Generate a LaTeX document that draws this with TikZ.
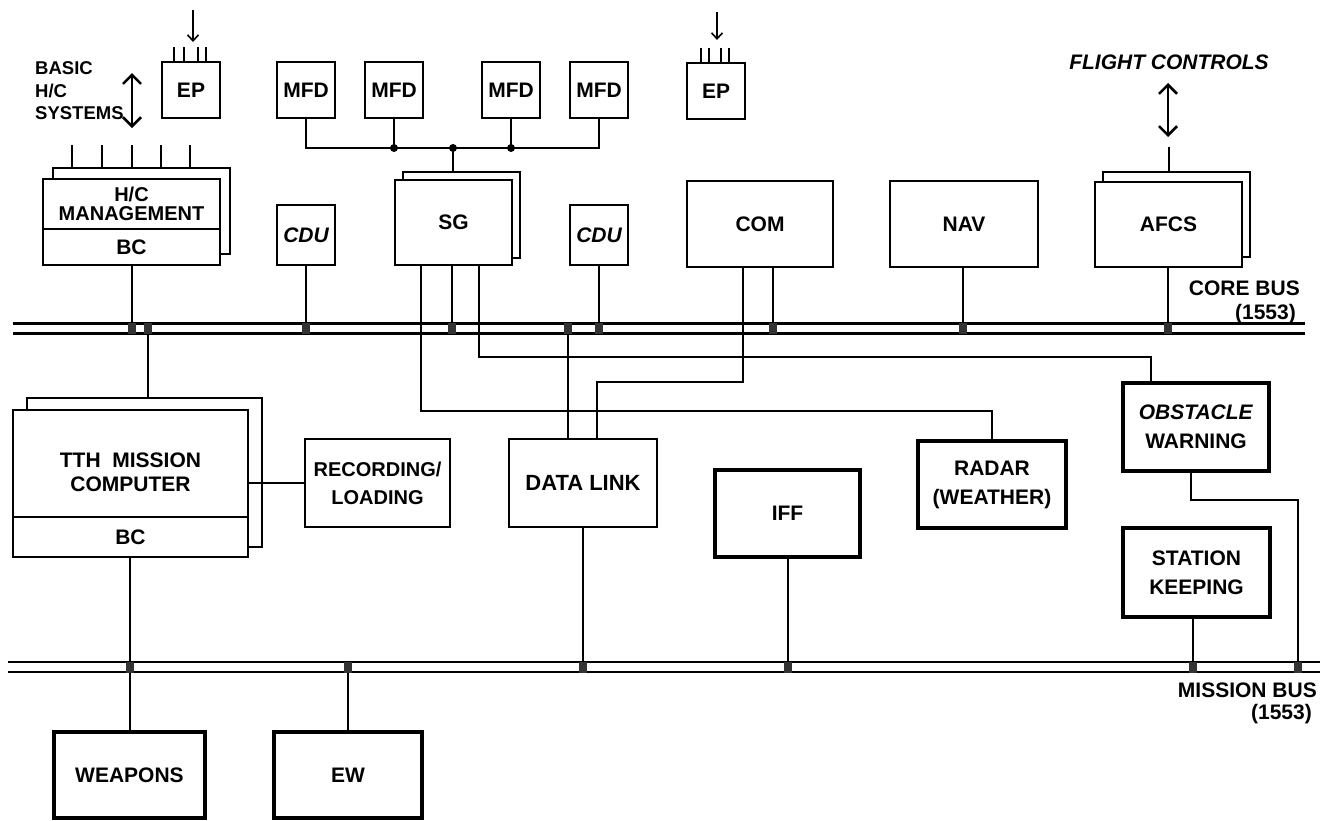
\documentclass[tikz,border=0pt]{standalone}
\usepackage{fontspec}
\setmainfont{Liberation Sans}
\usetikzlibrary{arrows.meta}
\newcommand\dfont{\fontsize{21}{29}\selectfont\bfseries}
\newcommand\sfont{\fontsize{18.5}{22}\selectfont\bfseries}
\begin{document}
\begin{tikzpicture}[x=1pt,y=-1pt,
  box/.style={draw, line width=2.1pt, fill=white, inner sep=0pt, align=center, font=\dfont},
  tbox/.style={box, line width=3.2pt},
  tap/.style={fill=black!80, inner sep=0pt, minimum width=8pt, minimum height=11pt},
  junc/.style={circle, fill=black, inner sep=0pt, minimum size=8pt},
  wire/.style={line width=2pt},
  bus/.style={line width=2.2pt},
  lab/.style={font=\dfont, inner sep=0pt},
  sz/.style 2 args={minimum width=#1pt, minimum height=#2pt},
  dbl/.style={line width=2.6pt, {Straight Barb[length=9pt,width=18pt]}-{Straight Barb[length=9pt,width=18pt]}},
  inarr/.style={line width=1.6pt, -{Straight Barb[length=6pt,width=11pt]}}
]
\useasboundingbox (0,0) rectangle (1333,820);

% ---------- buses ----------
\coordinate (cbL) at (13,323.5);  \coordinate (cbR) at (1305,323.5);
\coordinate (cbL2) at (13,333.5); \coordinate (cbR2) at (1305,333.5);
\coordinate (mbL) at (8,662);     \coordinate (mbR) at (1320,662);
\coordinate (mbL2) at (8,672);    \coordinate (mbR2) at (1320,672);
\draw[bus] (cbL) -- (cbR);
\draw[bus] (cbL2) -- (cbR2);
\draw[bus] (mbL) -- (mbR);
\draw[bus] (mbL2) -- (mbR2);

% ---------- shadow boxes ----------
\node[box, sz={177}{86}] (hcs) at (141.5,211) {};
\node[box, sz={117}{86}] (sgs) at (461.5,215) {};
\node[box, sz={147}{85}] (afcss) at (1176.5,214.5) {};
\node[box, sz={235}{149}] (tths) at (144.5,472.5) {};

% ---------- top row ----------
\node[box, sz={58}{56}] (ep1) at (191,90) {EP};
\node[box, sz={58}{56}] (ep2) at (716,91) {EP};
\node[box, sz={58}{56}] (mfd1) at (306,90) {MFD};
\node[box, sz={58}{56}] (mfd2) at (394,90) {MFD};
\node[box, sz={58}{56}] (mfd3) at (511,90) {MFD};
\node[box, sz={58}{56}] (mfd4) at (599,90) {MFD};

% ---------- core-bus row ----------
\node[box, sz={177}{50}, font=\fontsize{20}{18.5}\selectfont\bfseries] (hcm) at (131.5,204) {H/C\\MANAGEMENT};
\node[box, sz={177}{36}] (hcbc) at (131.5,247) {BC};
\node[box, sz={58}{60}, font=\dfont\itshape] (cdu1) at (306,235) {CDU};
\node[box, sz={117}{85}] (sg) at (453.5,222.5) {SG};
\node[box, sz={58}{60}, font=\dfont\itshape] (cdu2) at (599,235) {CDU};
\node[box, sz={146}{86}] (com) at (760,224) {COM};
\node[box, sz={148}{86}] (nav) at (964,224) {NAV};
\node[box, sz={147}{85}] (afcs) at (1168.5,224.5) {AFCS};

% ---------- middle row ----------
\node[box, sz={235}{107}, line width=2.6pt] (tth) at (130.5,463.5) {};
\node[lab, align=center, font=\fontsize{21}{24}\selectfont\bfseries] (tthtxt) at (130.5,472) {TTH\ \ MISSION\\COMPUTER};
\node[box, sz={235}{40}, line width=2.6pt] (tthbc) at (130.5,537) {BC};
\node[box, sz={145}{88}, font=\fontsize{20}{28}\selectfont\bfseries] (rec) at (377.5,483) {RECORDING/\\LOADING};
\node[box, sz={148}{88}, font=\fontsize{22}{29}\selectfont\bfseries] (dl) at (583,483) {DATA LINK};
\node[tbox, sz={145}{87}] (iff) at (787.5,513.5) {IFF};
\node[tbox, sz={148}{87}] (radar) at (992,484.5) {RADAR\\(WEATHER)};
\node[tbox, sz={146}{88}] (obst) at (1196,427) {\textit{OBSTACLE}\\WARNING};
\node[tbox, sz={147}{89}] (stat) at (1196.5,572.5) {STATION\\KEEPING};

% ---------- bottom row ----------
\node[tbox, sz={151}{86}] (wep) at (129.5,775) {WEAPONS};
\node[tbox, sz={148}{86}] (ew) at (348,775) {EW};

% ---------- labels ----------
\node[lab, font=\sfont, anchor=base west] (lb1) at (35,74) {BASIC};
\node[lab, font=\sfont, anchor=base west] (lb2) at (35,97) {H/C};
\node[lab, font=\sfont, anchor=base west] (lb3) at (35,119) {SYSTEMS};
\node[lab, font=\dfont\itshape, anchor=base] (fc) at (1169,69.5) {FLIGHT CONTROLS};
\node[lab, anchor=base east] (cb1) at (1300,295.5) {CORE BUS};
\node[lab, anchor=base east] (cb2) at (1296,319.5) {(1553)};
\node[lab, anchor=base east] (mb1) at (1317,697.5) {MISSION BUS};
\node[lab, anchor=base east] (mb2) at (1312,719.5) {(1553)};

% ---------- junctions on display line ----------
\node[junc] (j1) at (394,148) {};
\node[junc] (j2) at (453,148) {};
\node[junc] (j3) at (511,148) {};
\draw[wire] (mfd1.south) |- (j1.center) -- (j2.center) -- (j3.center) -| (mfd4.south);
\draw[wire] (mfd2.south) -- (j1.center);
\draw[wire] (mfd3.south) -- (j3.center);
\draw[wire] (j2.center) -- (j2 |- sgs.north);

% ---------- arrows / pins ----------
\coordinate (ba1) at (132,73); \coordinate (ba2) at (132,128);
\draw[dbl] (ba1) -- (ba2);
\coordinate (fa1) at (1168,83); \coordinate (fa2) at (1168,137);
\draw[dbl] (fa1) -- (fa2);
\draw[wire] (afcs.north |- afcss.north) -- ++(0,-24);
\foreach \dx in {20,50,80,109,138} \draw[wire] ([xshift=\dx pt]hcs.north west) -- ++(0,-22);
\foreach \dx in {13,23,37,45} \draw[wire] ([xshift=\dx pt]ep1.north west) -- ++(0,-14);
\foreach \dx in {15,23,35,43} \draw[wire] ([xshift=\dx pt]ep2.north west) -- ++(0,-14);
\coordinate (ea1) at (193,10); \coordinate (ea2) at (193,42);
\draw[inarr] (ea1) -- (ea2);
\coordinate (eb1) at (717,12); \coordinate (eb2) at (717,40);
\draw[inarr] (eb1) -- (eb2);

% ---------- taps ----------
\node[tap] (tc1) at (132,328.5) {};
\node[tap] (tc2) at (148,328.5) {};
\node[tap] (tc3) at (306,328.5) {};
\node[tap] (tc4) at (452,328.5) {};
\node[tap] (tc5) at (568,328.5) {};
\node[tap] (tc6) at (599,328.5) {};
\node[tap] (tc7) at (773,328.5) {};
\node[tap] (tc8) at (963,328.5) {};
\node[tap] (tc9) at (1168,328.5) {};
\node[tap] (tm1) at (130,667) {};
\node[tap] (tm2) at (348,667) {};
\node[tap] (tm3) at (583,667) {};
\node[tap] (tm4) at (788,667) {};
\node[tap] (tm5) at (1193,667) {};
\node[tap] (tm6) at (1298,667) {};

% ---------- stubs to buses ----------
\draw[wire] (tc1.north |- hcbc.south) -- (tc1.north);
\draw[wire] (tc2.south) -- (tc2.south |- tths.north);
\draw[wire] (tc3.north |- cdu1.south) -- (tc3.north);
\draw[wire] (tc4.north |- sg.south) -- (tc4.north);
\draw[wire] (tc5.south) -- (tc5.south |- dl.north);
\draw[wire] (tc6.north |- cdu2.south) -- (tc6.north);
\draw[wire] (tc7.north |- com.south) -- (tc7.north);
\draw[wire] (tc8.north |- nav.south) -- (tc8.north);
\draw[wire] (tc9.north |- afcs.south) -- (tc9.north);
\draw[wire] (tm1.north |- tthbc.south) -- (tm1.north);
\draw[wire] (tm1.south) -- (tm1.south |- wep.north);
\draw[wire] (tm2.south) -- (tm2.south |- ew.north);
\draw[wire] (tm3.north |- dl.south) -- (tm3.north);
\draw[wire] (tm4.north |- iff.south) -- (tm4.north);
\draw[wire] (tm5.north |- stat.south) -- (tm5.north);

% ---------- routed wires ----------
\draw[wire] ([xshift=27pt]sg.south west) -- ++(0,145) -| (radar.north);
\draw[wire] ([xshift=85pt]sg.south west) -- ++(0,91) -| ([xshift=30pt]obst.north west);
\draw[wire] ([xshift=57pt]com.south west) -- ++(0,114) -| ([xshift=89pt]dl.north west);
\draw[wire] ([xshift=70pt]obst.south west) -- ++(0,27) -| (tm6.north);
\draw[wire] (rec.west) -- (rec.west -| tth.east);

\end{tikzpicture}
\end{document}
